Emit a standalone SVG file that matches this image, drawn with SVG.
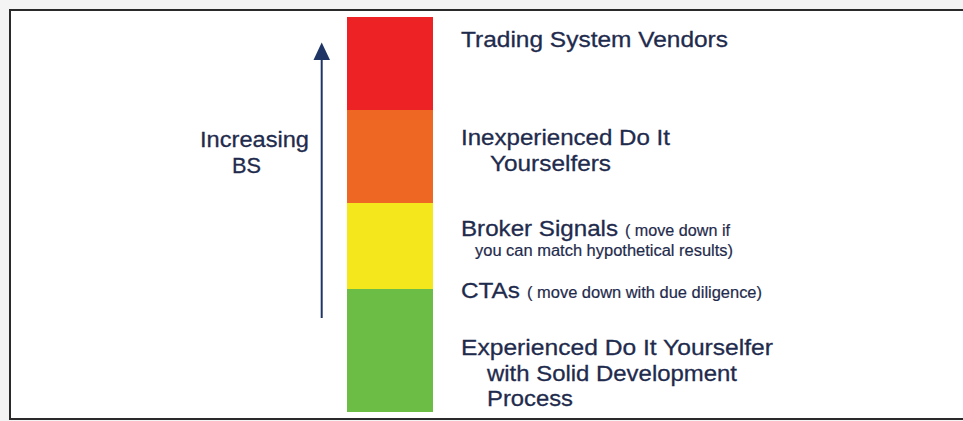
<svg xmlns="http://www.w3.org/2000/svg" width="963" height="421" viewBox="0 0 963 421">
<defs>
<style>
.t{font-family:"Liberation Sans",Arial,sans-serif;fill:#1f2b4d;stroke:#1f2b4d;stroke-width:0.3;font-size:22.5px}
.s{font-family:"Liberation Sans",Arial,sans-serif;fill:#1f2b4d;stroke:#1f2b4d;stroke-width:0.2;font-size:16px}
</style>
</defs>
<rect x="0" y="0" width="963" height="421" fill="#f4f4f4"/>
<rect x="10" y="10" width="960" height="409" fill="#ffffff" stroke="#2a2a2a" stroke-width="2"/>
<g id="bar">
<rect x="347" y="17" width="86" height="93" fill="#ec2224"/>
<rect x="347" y="110" width="86" height="93" fill="#ef6823"/>
<rect x="347" y="203" width="86" height="86" fill="#f4e71b"/>
<rect x="347" y="289" width="86" height="123" fill="#6bbd45"/>
</g>
<g id="connectors">
<line x1="321.7" y1="318" x2="321.7" y2="56" stroke="#1f3566" stroke-width="2"/>
<polygon points="321.7,42.5 313.5,60 330,60" fill="#1f3566"/>
</g>
<g id="axis-label">
<text class="t" x="200" y="147" textLength="109" lengthAdjust="spacingAndGlyphs">Increasing</text>
<text class="t" x="232" y="173" textLength="29" lengthAdjust="spacingAndGlyphs">BS</text>
</g>
<g id="vendors">
<text class="t" x="461" y="47" textLength="267" lengthAdjust="spacingAndGlyphs">Trading System Vendors</text>
</g>
<g id="inexperienced">
<text class="t" x="461" y="145" textLength="209" lengthAdjust="spacingAndGlyphs">Inexperienced Do It</text>
<text class="t" x="490" y="171" textLength="121" lengthAdjust="spacingAndGlyphs">Yourselfers</text>
</g>
<g id="broker">
<text class="t" x="461" y="236" textLength="157" lengthAdjust="spacingAndGlyphs">Broker Signals</text>
<text class="s" x="625" y="236" textLength="105" lengthAdjust="spacingAndGlyphs">( move down if</text>
<text class="s" x="475" y="256" textLength="258" lengthAdjust="spacingAndGlyphs">you can match hypothetical results)</text>
</g>
<g id="ctas">
<text class="t" x="461" y="298" textLength="59" lengthAdjust="spacingAndGlyphs">CTAs</text>
<text class="s" x="527" y="298" textLength="235" lengthAdjust="spacingAndGlyphs">( move down with due diligence)</text>
</g>
<g id="experienced">
<text class="t" x="461" y="355" textLength="312" lengthAdjust="spacingAndGlyphs">Experienced Do It Yourselfer</text>
<text class="t" x="487" y="381" textLength="250" lengthAdjust="spacingAndGlyphs">with Solid Development</text>
<text class="t" x="487" y="406" textLength="86" lengthAdjust="spacingAndGlyphs">Process</text>
</g>
</svg>
